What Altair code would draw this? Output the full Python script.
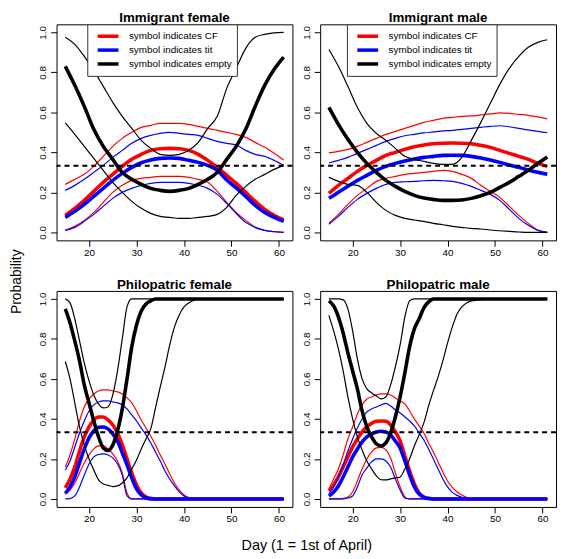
import altair as alt
import pandas as pd

# ---------------- data ----------------
IMM_DAYS = [15, 17, 19, 21, 23, 25, 27, 29, 31, 33, 35, 37, 39, 41, 43, 45, 47, 49, 51, 53, 55, 57, 59, 61]
PHI_DAYS = [15, 16, 17, 18, 19, 20, 21, 22, 23, 24, 25, 26, 27, 28, 29, 30, 31, 32, 33, 34, 35, 36, 37, 38,
            39, 40, 41, 42, 43, 44, 45, 50, 55, 61]

SYMBOLS = ["CF", "tit", "empty"]
COLORS = ["#ff0000", "#0000ff", "#000000"]
KINDS = ["lower", "upper", "mean"]
CHANCE_LEVEL = 1 / 3
X_TICKS = [20, 30, 40, 50, 60]
Y_TICKS = [0.0, 0.2, 0.4, 0.6, 0.8, 1.0]

# Immigrant female
IF_CF_MEAN = [0.085, 0.12, 0.16, 0.205, 0.25, 0.29, 0.33, 0.365, 0.39, 0.41, 0.418, 0.42, 0.418, 0.41, 0.39, 0.36, 0.325, 0.285, 0.245, 0.2, 0.155, 0.115, 0.085, 0.063]
IF_CF_LO = [0.01, 0.03, 0.06, 0.10, 0.15, 0.20, 0.235, 0.26, 0.27, 0.275, 0.28, 0.28, 0.28, 0.275, 0.265, 0.25, 0.205, 0.15, 0.10, 0.06, 0.025, 0.01, 0.004, 0.0]
IF_CF_HI = [0.24, 0.265, 0.29, 0.33, 0.38, 0.43, 0.47, 0.50, 0.525, 0.535, 0.545, 0.545, 0.545, 0.54, 0.53, 0.52, 0.51, 0.50, 0.49, 0.475, 0.45, 0.425, 0.395, 0.362]
IF_TIT_MEAN = [0.075, 0.105, 0.14, 0.18, 0.22, 0.26, 0.295, 0.325, 0.348, 0.362, 0.37, 0.372, 0.37, 0.36, 0.35, 0.335, 0.31, 0.262, 0.222, 0.18, 0.135, 0.10, 0.075, 0.055]
IF_TIT_LO = [0.01, 0.025, 0.055, 0.09, 0.13, 0.17, 0.20, 0.22, 0.235, 0.245, 0.25, 0.25, 0.25, 0.245, 0.235, 0.22, 0.19, 0.145, 0.095, 0.05, 0.025, 0.01, 0.003, 0.0]
IF_TIT_HI = [0.21, 0.235, 0.265, 0.30, 0.335, 0.375, 0.41, 0.445, 0.47, 0.485, 0.495, 0.50, 0.495, 0.49, 0.485, 0.47, 0.455, 0.445, 0.437, 0.41, 0.39, 0.38, 0.36, 0.335]
IF_EMPTY_MEAN = [0.83, 0.735, 0.63, 0.515, 0.43, 0.365, 0.30, 0.265, 0.24, 0.22, 0.21, 0.205, 0.21, 0.22, 0.24, 0.265, 0.30, 0.365, 0.43, 0.515, 0.63, 0.735, 0.815, 0.876]
IF_EMPTY_LO = [0.547, 0.49, 0.43, 0.37, 0.31, 0.25, 0.20, 0.155, 0.12, 0.095, 0.08, 0.075, 0.07, 0.07, 0.075, 0.08, 0.09, 0.125, 0.185, 0.23, 0.265, 0.29, 0.315, 0.335]
IF_EMPTY_HI = [0.975, 0.94, 0.88, 0.81, 0.73, 0.65, 0.58, 0.52, 0.46, 0.42, 0.39, 0.385, 0.39, 0.41, 0.45, 0.52, 0.58, 0.72, 0.82, 0.92, 0.975, 0.99, 0.997, 1.0]

# Immigrant male
IM_CF_MEAN = [0.195, 0.235, 0.27, 0.305, 0.335, 0.36, 0.385, 0.40, 0.415, 0.428, 0.437, 0.443, 0.446, 0.447, 0.446, 0.443, 0.435, 0.425, 0.41, 0.395, 0.38, 0.365, 0.345, 0.33]
IM_CF_LO = [0.046, 0.09, 0.14, 0.185, 0.22, 0.255, 0.27, 0.28, 0.29, 0.295, 0.30, 0.305, 0.31, 0.305, 0.29, 0.27, 0.235, 0.205, 0.175, 0.13, 0.085, 0.045, 0.012, 0.0]
IM_CF_HI = [0.397, 0.405, 0.415, 0.43, 0.45, 0.47, 0.49, 0.505, 0.52, 0.535, 0.55, 0.56, 0.57, 0.575, 0.58, 0.582, 0.587, 0.592, 0.597, 0.595, 0.59, 0.585, 0.577, 0.567]
IM_TIT_MEAN = [0.17, 0.20, 0.23, 0.26, 0.285, 0.31, 0.33, 0.345, 0.357, 0.367, 0.375, 0.38, 0.385, 0.386, 0.385, 0.38, 0.372, 0.362, 0.35, 0.337, 0.325, 0.312, 0.30, 0.29]
IM_TIT_LO = [0.041, 0.08, 0.125, 0.165, 0.195, 0.22, 0.24, 0.25, 0.253, 0.255, 0.258, 0.26, 0.258, 0.255, 0.245, 0.23, 0.21, 0.19, 0.16, 0.115, 0.07, 0.035, 0.01, 0.0]
IM_TIT_HI = [0.347, 0.36, 0.375, 0.395, 0.415, 0.435, 0.455, 0.47, 0.483, 0.49, 0.497, 0.502, 0.507, 0.51, 0.515, 0.52, 0.525, 0.53, 0.533, 0.528, 0.52, 0.512, 0.505, 0.498]
IM_EMPTY_MEAN = [0.625, 0.54, 0.465, 0.40, 0.345, 0.30, 0.26, 0.23, 0.205, 0.185, 0.172, 0.165, 0.16, 0.16, 0.162, 0.17, 0.183, 0.20, 0.225, 0.25, 0.28, 0.31, 0.345, 0.377]
IM_EMPTY_LO = [0.275, 0.255, 0.24, 0.235, 0.2, 0.15, 0.11, 0.085, 0.07, 0.062, 0.055, 0.045, 0.038, 0.03, 0.025, 0.02, 0.017, 0.012, 0.008, 0.005, 0.002, 0.0, 0.0, 0.0]
IM_EMPTY_HI = [0.914, 0.83, 0.73, 0.625, 0.545, 0.495, 0.46, 0.42, 0.38, 0.365, 0.355, 0.345, 0.34, 0.34, 0.375, 0.46, 0.55, 0.645, 0.74, 0.82, 0.88, 0.925, 0.95, 0.963]

# Philopatric female
PF_CF_MEAN = [0.055, 0.10, 0.16, 0.24, 0.31, 0.36, 0.395, 0.41, 0.41, 0.395, 0.37, 0.33, 0.27, 0.2, 0.13, 0.07, 0.03, 0.01, 0.003, 0.0,
              0.0, 0.0, 0.0, 0.0, 0.0, 0.0, 0.0, 0.0, 0.0, 0.0, 0.0, 0.0, 0.0, 0.0]
PF_CF_LO = [0.025, 0.045, 0.08, 0.13, 0.18, 0.22, 0.25, 0.265, 0.265, 0.25, 0.225, 0.19, 0.13, 0.03, 0.0, 0.0,
            0.0, 0.0, 0.0, 0.0, 0.0, 0.0, 0.0, 0.0, 0.0, 0.0, 0.0, 0.0, 0.0, 0.0, 0.0, 0.0, 0.0, 0.0]
PF_CF_HI = [0.16, 0.22, 0.30, 0.39, 0.46, 0.50, 0.525, 0.54, 0.545, 0.545, 0.54, 0.535, 0.525, 0.505, 0.48, 0.44, 0.395, 0.355, 0.315, 0.27,
            0.22, 0.175, 0.125, 0.08, 0.045, 0.02, 0.007, 0.0, 0.0, 0.0, 0.0, 0.0, 0.0, 0.0]
PF_TIT_MEAN = [0.028, 0.06, 0.11, 0.18, 0.25, 0.305, 0.34, 0.358, 0.36, 0.35, 0.325, 0.29, 0.23, 0.17, 0.105, 0.05, 0.02, 0.006, 0.0, 0.0,
               0.0, 0.0, 0.0, 0.0, 0.0, 0.0, 0.0, 0.0, 0.0, 0.0, 0.0, 0.0, 0.0, 0.0]
PF_TIT_LO = [0.0, 0.002, 0.015, 0.06, 0.12, 0.175, 0.21, 0.222, 0.225, 0.22, 0.205, 0.175, 0.12, 0.015, 0.0, 0.0,
             0.0, 0.0, 0.0, 0.0, 0.0, 0.0, 0.0, 0.0, 0.0, 0.0, 0.0, 0.0, 0.0, 0.0, 0.0, 0.0, 0.0, 0.0]
PF_TIT_HI = [0.145, 0.19, 0.26, 0.33, 0.39, 0.44, 0.47, 0.485, 0.49, 0.49, 0.485, 0.48, 0.47, 0.45, 0.42, 0.39, 0.355, 0.32, 0.28, 0.235,
             0.19, 0.14, 0.10, 0.065, 0.035, 0.015, 0.005, 0.0, 0.0, 0.0, 0.0, 0.0, 0.0, 0.0]
PF_EMPTY_MEAN = [0.95, 0.88, 0.79, 0.69, 0.57, 0.48, 0.39, 0.31, 0.255, 0.242, 0.27, 0.34, 0.45, 0.60, 0.76, 0.87, 0.94, 0.975, 0.99, 1.0,
                 1.0, 1.0, 1.0, 1.0, 1.0, 1.0, 1.0, 1.0, 1.0, 1.0, 1.0, 1.0, 1.0, 1.0]
PF_EMPTY_LO = [0.687, 0.60, 0.48, 0.36, 0.27, 0.20, 0.145, 0.095, 0.075, 0.068, 0.062, 0.065, 0.08, 0.105, 0.15, 0.195, 0.25, 0.30, 0.35, 0.455,
               0.56, 0.66, 0.77, 0.86, 0.92, 0.96, 0.98, 0.992, 1.0, 1.0, 1.0, 1.0, 1.0, 1.0]
PF_EMPTY_HI = [1.0, 0.98, 0.9, 0.79, 0.68, 0.59, 0.52, 0.475, 0.455, 0.46, 0.52, 0.64, 0.80, 0.96, 1.0, 1.0, 1.0, 1.0, 1.0, 1.0,
               1.0, 1.0, 1.0, 1.0, 1.0, 1.0, 1.0, 1.0, 1.0, 1.0, 1.0, 1.0, 1.0, 1.0]

# Philopatric male
PM_CF_MEAN = [0.04, 0.07, 0.11, 0.16, 0.21, 0.26, 0.30, 0.335, 0.36, 0.378, 0.388, 0.39, 0.388, 0.37, 0.335, 0.29, 0.215, 0.14, 0.075, 0.03,
              0.01, 0.003, 0.0, 0.0, 0.0, 0.0, 0.0, 0.0, 0.0, 0.0, 0.0, 0.0, 0.0, 0.0]
PM_CF_LO = [0.0, 0.0, 0.0, 0.003, 0.01, 0.035, 0.09, 0.15, 0.2, 0.235, 0.255, 0.258, 0.245, 0.205, 0.13, 0.06, 0.01, 0.0, 0.0, 0.0,
            0.0, 0.0, 0.0, 0.0, 0.0, 0.0, 0.0, 0.0, 0.0, 0.0, 0.0, 0.0, 0.0, 0.0]
PM_CF_HI = [0.05, 0.10, 0.15, 0.22, 0.30, 0.36, 0.425, 0.47, 0.50, 0.51, 0.52, 0.525, 0.525, 0.52, 0.505, 0.49, 0.475, 0.44, 0.40, 0.365,
            0.33, 0.28, 0.235, 0.185, 0.135, 0.09, 0.058, 0.035, 0.02, 0.008, 0.0, 0.0, 0.0, 0.0]
PM_TIT_MEAN = [0.015, 0.035, 0.065, 0.11, 0.16, 0.21, 0.25, 0.285, 0.31, 0.325, 0.335, 0.338, 0.335, 0.32, 0.29, 0.255, 0.19, 0.12, 0.06, 0.025,
               0.008, 0.002, 0.0, 0.0, 0.0, 0.0, 0.0, 0.0, 0.0, 0.0, 0.0, 0.0, 0.0, 0.0]
PM_TIT_LO = [0.0, 0.0, 0.0, 0.0, 0.005, 0.015, 0.06, 0.12, 0.155, 0.185, 0.2, 0.2, 0.19, 0.16, 0.1, 0.045, 0.005, 0.0, 0.0, 0.0,
             0.0, 0.0, 0.0, 0.0, 0.0, 0.0, 0.0, 0.0, 0.0, 0.0, 0.0, 0.0, 0.0, 0.0]
PM_TIT_HI = [0.028, 0.06, 0.11, 0.17, 0.24, 0.30, 0.355, 0.40, 0.435, 0.45, 0.46, 0.47, 0.478, 0.465, 0.445, 0.43, 0.41, 0.39, 0.365, 0.33,
             0.295, 0.25, 0.20, 0.15, 0.10, 0.06, 0.033, 0.018, 0.008, 0.0, 0.0, 0.0, 0.0, 0.0]
PM_EMPTY_MEAN = [0.99, 0.965, 0.91, 0.83, 0.73, 0.64, 0.55, 0.44, 0.36, 0.31, 0.275, 0.265, 0.28, 0.33, 0.41, 0.51, 0.63, 0.76, 0.85, 0.90,
                 0.955, 0.985, 1.0, 1.0, 1.0, 1.0, 1.0, 1.0, 1.0, 1.0, 1.0, 1.0, 1.0, 1.0]
PM_EMPTY_LO = [0.918, 0.84, 0.75, 0.64, 0.51, 0.40, 0.31, 0.245, 0.19, 0.15, 0.115, 0.096, 0.095, 0.10, 0.105, 0.11, 0.15, 0.20, 0.265, 0.32,
               0.38, 0.465, 0.54, 0.61, 0.69, 0.78, 0.86, 0.925, 0.96, 0.98, 0.99, 1.0, 1.0, 1.0]
PM_EMPTY_HI = [1.0, 1.0, 1.0, 0.995, 0.95, 0.84, 0.70, 0.60, 0.55, 0.53, 0.515, 0.50, 0.51, 0.57, 0.66, 0.77, 0.91, 0.99, 1.0, 1.0,
               1.0, 1.0, 1.0, 1.0, 1.0, 1.0, 1.0, 1.0, 1.0, 1.0, 1.0, 1.0, 1.0, 1.0]

PANELS = [
    ("Immigrant female", IMM_DAYS, {
        "CF": {"mean": IF_CF_MEAN, "lower": IF_CF_LO, "upper": IF_CF_HI},
        "tit": {"mean": IF_TIT_MEAN, "lower": IF_TIT_LO, "upper": IF_TIT_HI},
        "empty": {"mean": IF_EMPTY_MEAN, "lower": IF_EMPTY_LO, "upper": IF_EMPTY_HI}}),
    ("Immigrant male", IMM_DAYS, {
        "CF": {"mean": IM_CF_MEAN, "lower": IM_CF_LO, "upper": IM_CF_HI},
        "tit": {"mean": IM_TIT_MEAN, "lower": IM_TIT_LO, "upper": IM_TIT_HI},
        "empty": {"mean": IM_EMPTY_MEAN, "lower": IM_EMPTY_LO, "upper": IM_EMPTY_HI}}),
    ("Philopatric female", PHI_DAYS, {
        "CF": {"mean": PF_CF_MEAN, "lower": PF_CF_LO, "upper": PF_CF_HI},
        "tit": {"mean": PF_TIT_MEAN, "lower": PF_TIT_LO, "upper": PF_TIT_HI},
        "empty": {"mean": PF_EMPTY_MEAN, "lower": PF_EMPTY_LO, "upper": PF_EMPTY_HI}}),
    ("Philopatric male", PHI_DAYS, {
        "CF": {"mean": PM_CF_MEAN, "lower": PM_CF_LO, "upper": PM_CF_HI},
        "tit": {"mean": PM_TIT_MEAN, "lower": PM_TIT_LO, "upper": PM_TIT_HI},
        "empty": {"mean": PM_EMPTY_MEAN, "lower": PM_EMPTY_LO, "upper": PM_EMPTY_HI}}),
]

# ---------------- chart ----------------
W, H = 238, 218
FONT = "Liberation Sans"

xscale = alt.Scale(domain=[13.16, 62.84], nice=False, zero=False)
yscale = alt.Scale(domain=[-0.04, 1.04], nice=False, zero=False)
xaxis = alt.Axis(values=X_TICKS, tickSize=6, tickColor="black", tickWidth=1, labelFontSize=10,
                 labelFont=FONT, labelColor="black", labelPadding=1, domain=False, grid=False,
                 minExtent=20, maxExtent=20, labelFlush=False, title=None)
yaxis = alt.Axis(values=Y_TICKS, format=".1f", tickSize=6, tickColor="black", tickWidth=1,
                 labelFontSize=10, labelFont=FONT, labelColor="black", labelPadding=3,
                 labelAngle=270, labelAlign="center", labelBaseline="bottom",
                 domain=False, grid=False, minExtent=24, maxExtent=24, title=None)


def make_panel(title, days, series, legend_x):
    rows = []
    for sym in SYMBOLS:
        for kind in KINDS:
            vals = series[sym][kind]
            assert len(vals) == len(days), (title, sym, kind)
            for d, v in zip(days, vals):
                rows.append({"day": d, "p": v, "symbol": sym, "kind": kind})
    df = pd.DataFrame(rows)

    if legend_x is not None:
        legend = alt.Legend(orient="none", legendX=legend_x, legendY=0, title=None,
                            fillColor="white", strokeColor="#333333", padding=5,
                            symbolType="M-2,0H2", symbolStrokeWidth=3.5, symbolSize=110,
                            symbolOffset=9, labelFontSize=10, labelFont=FONT, labelColor="black",
                            labelOffset=14, rowPadding=-1.5, labelLimit=300,
                            labelExpr="'symbol indicates ' + datum.label")
    else:
        legend = None
    color = alt.Color("symbol:N", scale=alt.Scale(domain=SYMBOLS, range=COLORS), legend=legend)
    width = alt.StrokeWidth("kind:N", scale=alt.Scale(type="ordinal", domain=["mean", "lower", "upper"],
                                                       range=[3.6, 1.2, 1.2]), legend=None)
    layers = []
    for sym in SYMBOLS:
        layers.append(
            alt.Chart(df).transform_filter(alt.datum.symbol == sym)
            .mark_line(interpolate="monotone")
            .encode(x=alt.X("day:Q", scale=xscale, axis=xaxis),
                    y=alt.Y("p:Q", scale=yscale, axis=yaxis),
                    color=color, strokeWidth=width, detail="kind:N")
        )
    rule = alt.Chart(pd.DataFrame({"level": [CHANCE_LEVEL]})).mark_rule(
        color="black", strokeWidth=2, strokeDash=[5, 4]).encode(
        y=alt.Y("level:Q", scale=yscale, axis=yaxis))
    return alt.layer(*layers, rule).properties(
        width=W, height=H,
        title=alt.TitleParams(title, fontSize=13.5, fontWeight="bold", font=FONT, color="black",
                              anchor="middle", frame="group", offset=-1))


p1 = make_panel(*PANELS[0], legend_x=31)
p2 = make_panel(*PANELS[1], legend_x=27)
p3 = make_panel(*PANELS[2], legend_x=None)
p4 = make_panel(*PANELS[3], legend_x=None)

row1 = alt.hconcat(p1, p2, spacing=1).resolve_scale(color="independent")
row2 = alt.hconcat(p3, p4, spacing=1).resolve_scale(color="independent")
grid = alt.vconcat(row1, row2, spacing=17).resolve_scale(color="independent").properties(
    title=alt.TitleParams("Day (1 = 1st of April)", orient="bottom", anchor="middle", fontSize=14.5,
                          fontWeight="normal", font=FONT, color="black", offset=12, dx=12))
chart = alt.hconcat(grid).resolve_scale(color="independent").properties(
    padding={"left": 2, "top": 0, "right": 0, "bottom": 0},
    title=alt.TitleParams("Probability", orient="left", anchor="middle", fontSize=14,
                          fontWeight="normal", font=FONT, color="black", offset=8)
).configure_view(stroke="black", strokeWidth=1)

chart.save("out.html", embed_options={"renderer": "svg", "actions": False})
